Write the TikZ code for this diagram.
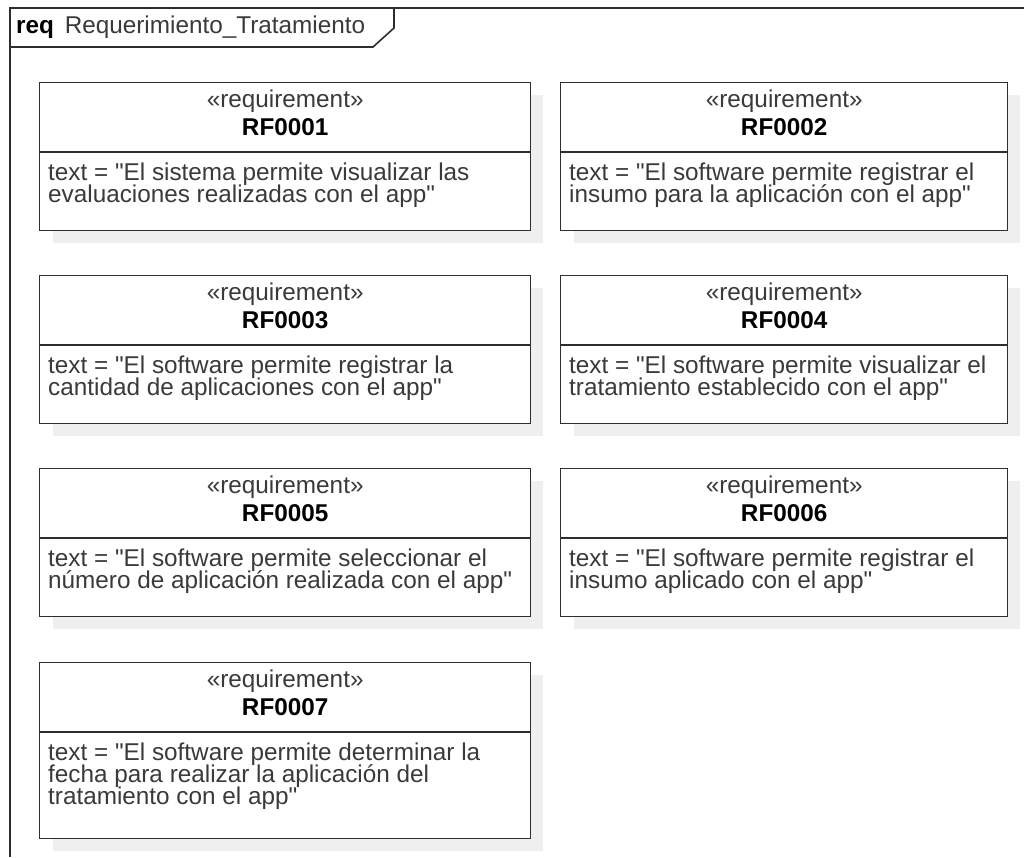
\documentclass[tikz,border=0pt]{standalone}
\usepackage{fontspec}
\setmainfont{Liberation Sans}[Ligatures=TeXOff]
\definecolor{inkline}{HTML}{2E2E2E}
\definecolor{inktext}{HTML}{3A3A3A}
\definecolor{shade}{HTML}{EFEFEF}
\newcommand\bodyfont{\fontsize{24.3}{22}\selectfont\lineskiplimit=-100pt\relax}
\tikzset{
  frameline/.style={draw=inkline, line width=1.6pt},
  boxline/.style={draw=inkline, line width=1.4pt},
  reqbox/.style={boxline, fill=white, rectangle, anchor=north west, inner sep=0pt},
  boxshade/.style={fill=shade, draw=none},
  stereo/.style={text=inktext, font=\bodyfont, inner sep=0pt},
  reqname/.style={text=black, font=\bodyfont\bfseries, inner sep=0pt},
  reqtext/.style={text=inktext, font=\bodyfont, inner sep=0pt, anchor=north west, align=left},
}
% one requirement block: name, left x, top y, width, height, id, text
\newcommand\reqblock[7]{%
  \fill[boxshade] (#2+14,#3+13) rectangle (#2+#4+13,#3+#5+13);
  \node[reqbox, minimum width=#4, minimum height=#5] (#1) at (#2,#3) {};
  \draw[boxline] ([yshift=-70]#1.north west) -- ([yshift=-70]#1.north east);
  \node[stereo] (#1-st) at ([yshift=-19]#1.north) {«requirement»};
  \node[reqname] (#1-id) at ([yshift=-45]#1.north) {#6};
  \node[reqtext] (#1-tx) at ([xshift=9,yshift=-81]#1.north west) {#7};
}
\begin{document}
\begin{tikzpicture}[x=1pt,y=-1pt]
\useasboundingbox (0,0) rectangle (1024,857);
\fill[white] (0,0) rectangle (1024,857);

% diagram frame and its name tab
\draw[frameline] (1024,8) -- (10,8) -- (10,857);
\draw[frameline] (10,47) -- (373,47) -- (394,28) -- (394,8);
\node[anchor=west, inner sep=0pt, font=\bodyfont] (title) at (16,27)
  {\textbf{req}\, \textcolor{inktext}{Requerimiento\_Tratamiento}};

% requirements
\reqblock{rf1}{39}{82}{491}{148}{RF0001}{text = "El sistema permite visualizar las\\evaluaciones realizadas con el app"}
\reqblock{rf2}{560}{82}{447}{148}{RF0002}{text = "El software permite registrar el\\insumo para la aplicación con el app"}
\reqblock{rf3}{39}{275}{491}{148}{RF0003}{text = "El software permite registrar la\\cantidad de aplicaciones con el app"}
\reqblock{rf4}{560}{275}{447}{148}{RF0004}{text = "El software permite visualizar el\\tratamiento establecido con el app"}
\reqblock{rf5}{39}{468}{491}{148}{RF0005}{text = "El software permite seleccionar el\\número de aplicación realizada con el app"}
\reqblock{rf6}{560}{468}{447}{148}{RF0006}{text = "El software permite registrar el\\insumo aplicado con el app"}
\reqblock{rf7}{39}{662}{491}{176}{RF0007}{text = "El software permite determinar la\\fecha para realizar la aplicación del\\tratamiento con el app"}
\end{tikzpicture}
\end{document}
